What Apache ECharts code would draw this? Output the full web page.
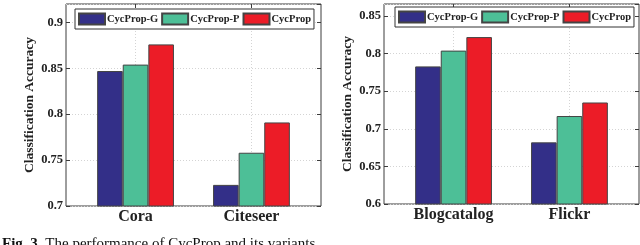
<!DOCTYPE html>
<html>
<head>
<meta charset="utf-8">
<script src="https://cdn.jsdelivr.net/npm/echarts@6/dist/echarts.min.js"></script>
<style>html,body{margin:0;padding:0;background:#fff;}#c{width:640px;height:245px;}</style>
</head>
<body>
<div id="c"></div>
<script>
// ---- data ----
const seriesNames = ['CycProp-G', 'CycProp-P', 'CycProp'];
const categoriesA = ['Cora', 'Citeseer'];
const categoriesB = ['Blogcatalog', 'Flickr'];
const valuesA_G = [0.847, 0.723];
const valuesA_P = [0.854, 0.758];
const valuesA_C = [0.876, 0.791];
const valuesB_G = [0.783, 0.682];
const valuesB_P = [0.804, 0.717];
const valuesB_C = [0.822, 0.735];
const yTickLabelsA = ['0.7', '0.75', '0.8', '0.85', '0.9'];
const yTickLabelsB = ['0.6', '0.65', '0.7', '0.75', '0.8', '0.85'];
const axisTitleY = 'Classification Accuracy';
const captionBold = 'Fig. 3.';
const captionText = ' The performance of CycProp and its variants.';

// ---- style ----
const colors = ['#332f88', '#4dbf97', '#ec1c27'];
const font = 'Liberation Serif';
const frame = '#3c3c3c';
const catPos = [1, 2];

function xAxes(gridIndex, cats) {
  const base = {
    type: 'value', gridIndex: gridIndex, min: 0.4, max: 2.6,
    axisLine: { show: false },
  };
  return [
    Object.assign({}, base, {
      position: 'bottom',
      axisTick: { show: true, inside: true, length: 4, customValues: catPos, lineStyle: { color: frame } },
      axisLabel: {
        customValues: catPos, margin: 3,
        formatter: v => cats[Math.round(v) - 1] || '',
        fontFamily: font, fontWeight: 'bold', fontSize: 16, color: '#222'
      },
      splitLine: { show: true, customValues: catPos, lineStyle: { color: '#d4d4d4', type: [1, 2], width: 1 } }
    }),
    Object.assign({}, base, {
      position: 'top',
      axisTick: { show: true, inside: true, length: 4, customValues: catPos, lineStyle: { color: frame } },
      axisLabel: { show: false, customValues: catPos },
      splitLine: { show: false }
    })
  ];
}

function yAxes(gridIndex, min, max, labels) {
  const base = { type: 'value', gridIndex: gridIndex, min: min, max: max, interval: 0.05, axisLine: { show: false } };
  return [
    Object.assign({}, base, {
      position: 'left',
      name: axisTitleY, nameLocation: 'middle', nameGap: 29,
      nameTextStyle: { fontFamily: font, fontWeight: 'bold', fontSize: 13.5, color: '#222' },
      axisTick: { show: true, inside: true, length: 4, lineStyle: { color: frame } },
      axisLabel: {
        margin: 3, showMaxLabel: false,
        formatter: v => { const s = labels.find(l => Math.abs(parseFloat(l) - v) < 1e-6); return s || ''; },
        fontFamily: font, fontWeight: 'bold', fontSize: 12.5, color: '#222'
      },
      splitLine: { show: true, lineStyle: { color: '#d4d4d4', type: [1, 2], width: 1 } }
    }),
    Object.assign({}, base, {
      position: 'right',
      axisTick: { show: true, inside: true, length: 4, lineStyle: { color: frame } },
      axisLabel: { show: false },
      splitLine: { show: false }
    })
  ];
}

function bars(axisIdx, valueLists) {
  return valueLists.map((vals, k) => ({
    type: 'bar', name: seriesNames[k],
    xAxisIndex: axisIdx, yAxisIndex: axisIdx,
    data: vals.map((v, i) => [catPos[i], v]),
    barWidth: 25.6, barGap: '0%',
    itemStyle: { color: colors[k], borderColor: '#444', borderWidth: 1 },
    emphasis: { disabled: true },
    animation: false
  }));
}

function legend(left, top) {
  return {
    left: left, top: top, orient: 'horizontal',
    data: seriesNames,
    icon: 'rect', itemWidth: 26, itemHeight: 11, itemGap: 3,
    padding: [3.5, 3],
    backgroundColor: '#fff', borderColor: '#333', borderWidth: 1,
    textStyle: { fontFamily: font, fontWeight: 'bold', fontSize: 10.5, color: '#222', padding: [0, 0, 0, -3] },
    selectedMode: false
  };
}

const xa = xAxes(0, categoriesA), xb = xAxes(1, categoriesB);
const ya = yAxes(0, 0.7, 0.92, yTickLabelsA), yb = yAxes(1, 0.6, 0.866, yTickLabelsB);

const chart = echarts.init(document.getElementById('c'), null, { renderer: 'canvas' });
chart.setOption({
  animation: false,
  grid: [
    { left: 66, top: 4, width: 255, height: 202, show: true, borderColor: frame, borderWidth: 1, backgroundColor: '#fff' },
    { left: 384, top: 4, width: 255, height: 200, show: true, borderColor: frame, borderWidth: 1, backgroundColor: '#fff' }
  ],
  xAxis: [xa[0], xb[0], xa[1], xb[1]],
  yAxis: [ya[0], yb[0], ya[1], yb[1]],
  legend: [legend(75, 9), legend(395, 7)],
  series: bars(0, [valuesA_G, valuesA_P, valuesA_C]).concat(bars(1, [valuesB_G, valuesB_P, valuesB_C])),
  graphic: [{
    type: 'text', left: 2, top: 237,
    style: {
      text: '{b|' + captionBold + '}{n|' + captionText + '}',
      rich: {
        b: { fontFamily: font, fontWeight: 'bold', fontSize: 15, fill: '#111' },
        n: { fontFamily: font, fontSize: 15, fill: '#111' }
      }
    }
  }]
});
</script>
</body>
</html>
